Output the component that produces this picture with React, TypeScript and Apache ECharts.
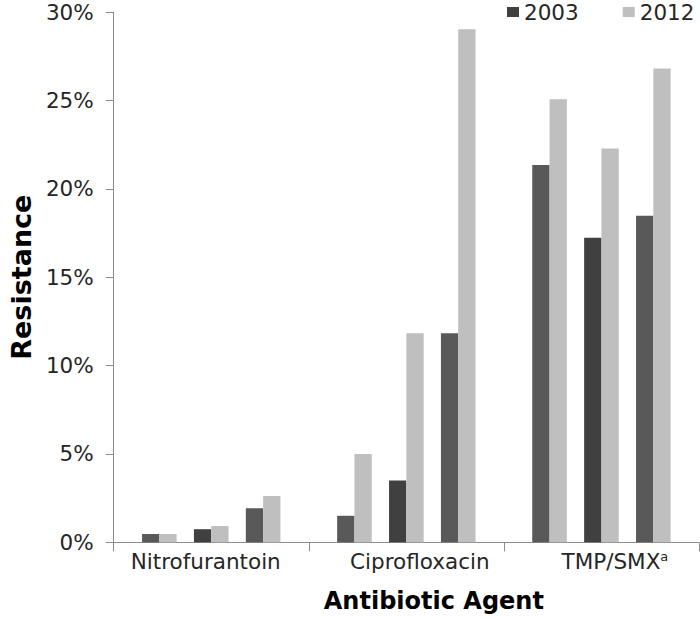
import React, { useEffect, useRef } from 'react';
import * as echarts from 'echarts';

// ---- data (percent resistance) ----
const categories = ['Nitrofurantoin', 'Ciprofloxacin', 'TMP/SMX'];
const yearLabels = ['2003', '2012'];
const yMin = 0;
const yMax = 30;
const yInterval = 5;

// three sub-groups per antibiotic, each a 2003 / 2012 pair
const groupA2003 = [0.47, 1.5, 21.35];
const groupA2012 = [0.47, 5.0, 25.07];
const groupB2003 = [0.74, 3.5, 17.23];
const groupB2012 = [0.92, 11.82, 22.28];
const groupC2003 = [1.92, 11.82, 18.47];
const groupC2012 = [2.62, 29.03, 26.8];
const spacer: (number | null)[] = [];

const FONT = 'DejaVu Sans';
const DARK_A = '#595959';
const DARK_B = '#404040';
const LIGHT = '#bfbfbf';
const AXIS = '#8c8c8c';
const TEXT = '#262626';
const BAR_W = 17.3;

export default function App() {
  const ref = useRef<HTMLDivElement>(null);

  useEffect(() => {
    if (!ref.current) return;
    const chart = echarts.init(ref.current, undefined, { renderer: 'svg' });

    const bar = (name: string, data: (number | null)[], color: string) => ({
      type: 'bar',
      name,
      data,
      barWidth: BAR_W,
      barGap: '0%',
      itemStyle: { color },
      silent: true,
    });

    const option = {
      animation: false,
      backgroundColor: '#ffffff',
      grid: { left: 110, right: 1, top: 12, bottom: 77.7, containLabel: false },
      legend: {
        data: [
          { name: yearLabels[0], itemStyle: { color: DARK_B } },
          { name: yearLabels[1], itemStyle: { color: LIGHT } },
        ],
        left: 507,
        top: 1,
        padding: 0,
        icon: 'rect',
        itemWidth: 12,
        itemHeight: 10,
        itemGap: 44,
        selectedMode: false,
        textStyle: { fontFamily: FONT, fontSize: 21.5, color: TEXT },
      },
      xAxis: {
        type: 'category',
        data: categories,
        name: 'Antibiotic Agent',
        nameLocation: 'middle',
        nameGap: 46.7,
        nameTextStyle: {
          fontFamily: FONT,
          fontSize: 24,
          fontWeight: 'bold',
          color: '#000',
          padding: [0, 0, 0, 55],
        },
        axisLine: { show: true, lineStyle: { color: AXIS, width: 1 } },
        axisTick: { show: true, interval: 0, length: 9, lineStyle: { color: AXIS } },
        axisLabel: {
          interval: 0,
          hideOverlap: false,
          margin: 8,
          fontFamily: FONT,
          fontSize: 21.5,
          color: TEXT,
          formatter: (value: string, index: number) =>
            `{c${index}|${value}}` + (index === 2 ? '{sup|a}' : ''),
          rich: {
            c0: { fontFamily: FONT, fontSize: 21.5, color: TEXT, padding: [0, 11, 0, 0] },
            c1: { fontFamily: FONT, fontSize: 21.5, color: TEXT, padding: [0, 0, 0, 27] },
            c2: { fontFamily: FONT, fontSize: 21.5, color: TEXT, padding: [0, 0, 0, 27] },
            sup: {
              fontFamily: FONT,
              fontSize: 13,
              lineHeight: 13,
              color: TEXT,
              verticalAlign: 'top',
            },
          },
        },
        splitLine: { show: false },
      },
      yAxis: {
        type: 'value',
        min: yMin,
        max: yMax,
        interval: yInterval,
        name: 'Resistance',
        nameLocation: 'middle',
        nameGap: 77.5,
        nameTextStyle: { fontFamily: FONT, fontSize: 27, fontWeight: 'bold', color: '#000' },
        axisLine: { show: true, lineStyle: { color: AXIS, width: 1 } },
        axisTick: { show: true, length: 8, lineStyle: { color: AXIS } },
        axisLabel: {
          margin: 20,
          fontFamily: FONT,
          fontSize: 21.5,
          color: TEXT,
          formatter: '{value}%',
        },
        splitLine: { show: false },
      },
      series: [
        bar(yearLabels[0], groupA2003, DARK_A),
        bar(yearLabels[1], groupA2012, LIGHT),
        bar('spacer1', spacer, 'transparent'),
        bar(yearLabels[0], groupB2003, DARK_B),
        bar(yearLabels[1], groupB2012, LIGHT),
        bar('spacer2', spacer, 'transparent'),
        bar(yearLabels[0], groupC2003, DARK_A),
        bar(yearLabels[1], groupC2012, LIGHT),
      ],
    };

    chart.setOption(option as any);
    return () => chart.dispose();
  }, []);

  return (
    <div
      ref={ref}
      style={{ position: 'absolute', left: 0, top: 0, width: 700, height: 620, background: '#fff' }}
    />
  );
}
